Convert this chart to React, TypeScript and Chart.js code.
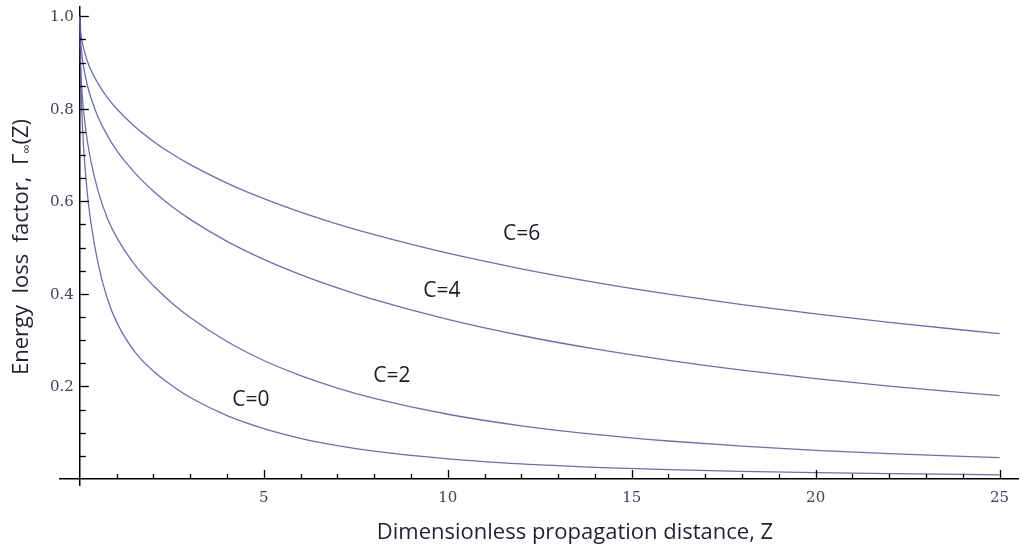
import React, { useEffect, useRef } from 'react';
import { Chart, registerables } from 'chart.js';

Chart.register(...registerables);

// Dimensionless propagation distance Z
const zValues = [0, 0.02, 0.05, 0.1, 0.2, 0.3, 0.5, 0.75, 1, 1.5, 2, 2.5, 3, 4, 5, 6, 7, 8, 10, 12, 14, 16, 18, 20, 22, 25];
// Energy loss factor for each C
const gammaC0 = [1, 0.889, 0.799, 0.719, 0.619, 0.554, 0.464, 0.389, 0.339, 0.274, 0.233, 0.202, 0.176, 0.137, 0.109, 0.088, 0.072, 0.06, 0.0435, 0.0326, 0.0253, 0.0201, 0.0164, 0.0136, 0.0114, 0.009];
const gammaC2 = [1, 0.892, 0.847, 0.797, 0.732, 0.687, 0.621, 0.563, 0.522, 0.462, 0.4175, 0.3805, 0.349, 0.297, 0.256, 0.2235, 0.1966, 0.1743, 0.1399, 0.115, 0.0964, 0.0821, 0.0708, 0.0619, 0.0546, 0.046];
const gammaC4 = [1, 0.949, 0.921, 0.891, 0.852, 0.824, 0.781, 0.742, 0.71, 0.661, 0.622, 0.589, 0.561, 0.5135, 0.4746, 0.4416, 0.4129, 0.3876, 0.345, 0.3101, 0.281, 0.2564, 0.2351, 0.2168, 0.2007, 0.18];
const gammaC6 = [1, 0.968, 0.951, 0.931, 0.904, 0.884, 0.854, 0.824, 0.8, 0.761, 0.7295, 0.7027, 0.6793, 0.6393, 0.6057, 0.5766, 0.5509, 0.528, 0.488, 0.4543, 0.4251, 0.3996, 0.3769, 0.3566, 0.3383, 0.314];

const seriesNames = ['C=0', 'C=2', 'C=4', 'C=6'];
const seriesValues = [gammaC0, gammaC2, gammaC4, gammaC6];

// Tick labels
const xTickValues = [5, 10, 15, 20, 25];
const yTickValues = [0.2, 0.4, 0.6, 0.8, 1.0];

// Curve annotations (anchor in data coordinates)
const labelTexts = ['C=6', 'C=4', 'C=2', 'C=0'];
const labelZ = [12.01, 9.84, 8.48, 4.65];
const labelGamma = [0.53, 0.406, 0.223, 0.171];

const xTitle = 'Dimensionless propagation distance, Z';
const yTitleMain = 'Energy  loss  factor,  \u0393';
const yTitleSub = '\u221E';
const yTitleEnd = '(Z)';

const LINE_COLOR = 'rgba(84, 84, 164, 0.85)';
const TICK_COLOR = '#3a4460';
const SANS = '"Open Sans", "Liberation Sans", sans-serif';
const SERIF = '"DejaVu Serif", "Liberation Serif", serif';

const decorPlugin = {
  id: 'decor',
  afterDraw(chart: any) {
    const { ctx } = chart;
    const xs = chart.scales.x;
    const ys = chart.scales.y;
    const x0 = xs.getPixelForValue(0);
    const y0 = ys.getPixelForValue(0);
    ctx.save();
    ctx.strokeStyle = '#000';
    ctx.lineWidth = 1.3;
    // x ticks (inward)
    for (let i = 1; i <= 25; i++) {
      const px = Math.round(xs.getPixelForValue(i)) + 0.5;
      const len = i % 5 === 0 ? 9 : 5;
      ctx.beginPath();
      ctx.moveTo(px, y0);
      ctx.lineTo(px, y0 - len);
      ctx.stroke();
    }
    // y ticks (inward)
    for (let i = 1; i <= 20; i++) {
      const v = i * 0.05;
      const py = Math.round(ys.getPixelForValue(v)) + 0.5;
      const len = i % 4 === 0 ? 9 : 6;
      ctx.beginPath();
      ctx.moveTo(x0, py);
      ctx.lineTo(x0 + len, py);
      ctx.stroke();
    }
    // y tick labels
    ctx.fillStyle = TICK_COLOR;
    ctx.font = `15px ${SERIF}`;
    ctx.textAlign = 'right';
    ctx.textBaseline = 'middle';
    yTickValues.forEach((v) => {
      ctx.fillText(v.toFixed(1), x0 - 6, ys.getPixelForValue(v) + 1);
    });
    // curve labels
    ctx.fillStyle = '#1a1a2a';
    ctx.font = `21px ${SANS}`;
    ctx.textAlign = 'center';
    ctx.textBaseline = 'middle';
    labelTexts.forEach((t, i) => {
      ctx.fillText(t, xs.getPixelForValue(labelZ[i]), ys.getPixelForValue(labelGamma[i]));
    });
    // x title
    ctx.fillStyle = '#1e2235';
    ctx.font = `22px ${SANS}`;
    ctx.textBaseline = 'alphabetic';
    ctx.fillText(xTitle, 575, 539);
    // y title (rotated)
    ctx.translate(28, 247);
    ctx.rotate(-Math.PI / 2);
    const mainFont = `22px ${SANS}`;
    const subFont = `13px ${SANS}`;
    ctx.font = mainFont;
    const w1 = ctx.measureText(yTitleMain).width;
    const w3 = ctx.measureText(yTitleEnd).width;
    ctx.font = subFont;
    const w2 = ctx.measureText(yTitleSub).width;
    let start = -(w1 + w2 + w3) / 2;
    ctx.textAlign = 'left';
    ctx.font = mainFont;
    ctx.fillText(yTitleMain, start, 0);
    start += w1;
    ctx.font = subFont;
    ctx.fillText(yTitleSub, start, 3);
    start += w2;
    ctx.font = mainFont;
    ctx.fillText(yTitleEnd, start, 0);
    ctx.restore();
  },
};

export default function App() {
  const canvasRef = useRef<HTMLCanvasElement | null>(null);

  useEffect(() => {
    const canvas = canvasRef.current;
    if (!canvas) return;
    const datasets = seriesValues.map((vals, si) => ({
      label: seriesNames[si],
      data: zValues.map((z, i) => ({ x: z, y: vals[i] })),
      borderColor: LINE_COLOR,
      borderWidth: 1.3,
      pointRadius: 0,
      fill: false,
      cubicInterpolationMode: 'monotone' as const,
    }));
    const chart = new Chart(canvas, {
      type: 'line',
      data: { datasets },
      options: {
        animation: false,
        responsive: false,
        layout: { padding: { left: 60, top: 7, right: 3, bottom: 61 } },
        plugins: {
          legend: { display: false },
          tooltip: { enabled: false },
        },
        scales: {
          x: {
            type: 'linear',
            min: -0.54,
            max: 25.5,
            position: { y: 0 } as any,
            grid: { display: false, drawTicks: false },
            border: { display: true, color: '#000', width: 1.5 },
            afterBuildTicks: (scale: any) => {
              scale.ticks = xTickValues.map((v) => ({ value: v }));
            },
            ticks: {
              padding: 10,
              color: TICK_COLOR,
              font: { family: SERIF, size: 15 },
              maxRotation: 0,
              autoSkip: false,
              callback: (v: any) => String(v),
            },
          },
          y: {
            type: 'linear',
            min: -0.013,
            max: 1.02,
            position: { x: 0 } as any,
            grid: { display: false, drawTicks: false },
            border: { display: true, color: '#000', width: 1.5 },
            afterBuildTicks: (scale: any) => {
              scale.ticks = yTickValues.map((v) => ({ value: v }));
            },
            ticks: { display: false },
          },
        },
      },
      plugins: [decorPlugin],
    });
    return () => chart.destroy();
  }, []);

  return (
    <div style={{ position: 'fixed', left: 0, top: 0, width: 1021, height: 546, background: '#fff' }}>
      <canvas ref={canvasRef} width={1021} height={546} style={{ display: 'block' }} />
    </div>
  );
}
